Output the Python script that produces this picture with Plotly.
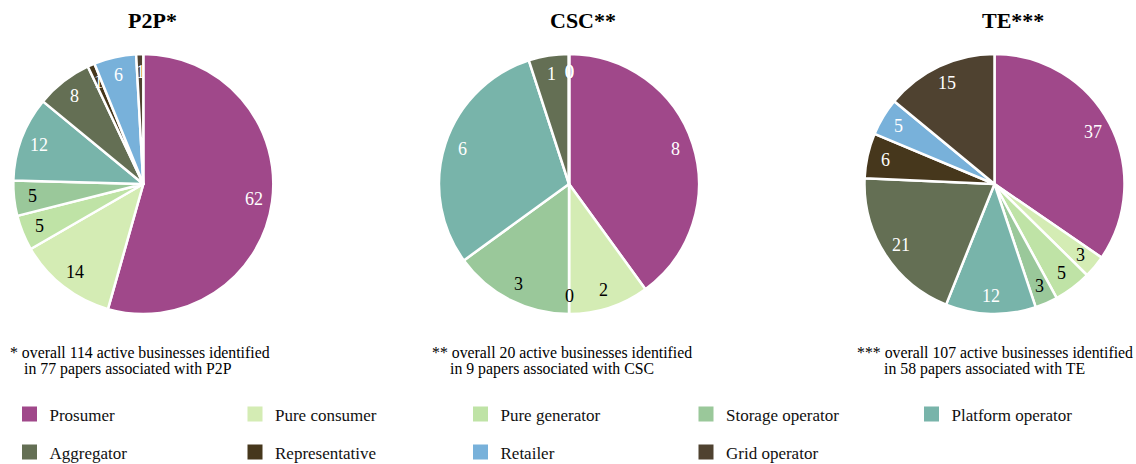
import math
import plotly.graph_objects as go

# ---------------- data ----------------
roles = ["Prosumer", "Pure consumer", "Pure generator", "Storage operator",
         "Platform operator", "Aggregator", "Representative", "Retailer", "Grid operator"]
p2p_values = [62, 14, 5, 5, 12, 8, 1, 6, 1]
csc_values = [8, 2, 0, 3, 6, 1, 0, 0, 0]
te_values = [37, 3, 5, 3, 12, 21, 6, 5, 15]
chart_titles = ["P2P*", "CSC**", "TE***"]
note_line1 = ["* overall 114 active businesses identified",
              "** overall 20 active businesses identified",
              "*** overall 107 active businesses identified"]
note_line2 = ["in 77 papers associated with P2P",
              "in 9 papers associated with CSC",
              "in 58 papers associated with TE"]

# ---------------- style ----------------
colors = ["#A0488A", "#D4ECB4", "#BFE3A6", "#9AC89A", "#78B4AA",
          "#646F54", "#46371C", "#78B1DA", "#4F4230"]
label_colors = ["white", "black", "black", "black", "white",
                "white", "white", "white", "white"]
FONT = "Liberation Serif"
W, H = 1136, 464
R = 130
centers = [(143.3, 184), (569, 184), (994.5, 184)]   # pixels
title_x = [153, 583, 1013]
note_x1 = [8, 430, 855]
note_x2 = [22, 448, 882]
label_r = 0.86


def px(x):
    return x / W


def py(y):
    return 1 - y / H


fig = go.Figure()
annotations = []
all_values = [p2p_values, csc_values, te_values]

for k, vals in enumerate(all_values):
    cx, cy = centers[k]
    fig.add_trace(go.Pie(
        labels=roles, values=vals, sort=False, direction="clockwise", rotation=0,
        marker=dict(colors=colors, line=dict(color="white", width=2.5)),
        textinfo="none", hoverinfo="label+value", showlegend=False,
        domain=dict(x=[px(cx - R), px(cx + R)], y=[py(cy + R), py(cy - R)]),
    ))
    total = sum(vals)
    cum = 0
    for i, v in enumerate(vals):
        theta = (cum + v / 2) / total * 2 * math.pi
        cum += v
        x = cx + label_r * R * math.sin(theta)
        y = cy - label_r * R * math.cos(theta)
        annotations.append(dict(
            x=px(x), y=py(y), xref="paper", yref="paper", text=str(v),
            showarrow=False, xanchor="center", yanchor="middle",
            font=dict(family=FONT, size=18, color=label_colors[i])))
    annotations.append(dict(
        x=px(title_x[k]), y=py(20), xref="paper", yref="paper",
        text="<b>" + chart_titles[k] + "</b>", showarrow=False,
        xanchor="center", yanchor="middle",
        font=dict(family=FONT, size=22, color="black")))
    annotations.append(dict(
        x=px(note_x1[k]), y=py(352), xref="paper", yref="paper",
        text=note_line1[k], showarrow=False, xanchor="left", yanchor="middle",
        font=dict(family=FONT, size=15.8, color="black")))
    annotations.append(dict(
        x=px(note_x2[k]), y=py(369), xref="paper", yref="paper",
        text=note_line2[k], showarrow=False, xanchor="left", yanchor="middle",
        font=dict(family=FONT, size=15.8, color="black")))

# legend entries (two rows)
for i, role in enumerate(roles):
    fig.add_trace(go.Scatter(
        x=[None], y=[None], mode="markers", name=role,
        marker=dict(symbol="square", size=15, color=colors[i]),
        legend="legend" if i < 5 else "legend2", hoverinfo="skip"))

legend_common = dict(orientation="h", xanchor="left", yanchor="top",
                     entrywidth=180.5, entrywidthmode="pixels",
                     font=dict(family=FONT, size=17, color="#111"),
                     bgcolor="rgba(0,0,0,0)", itemclick=False, itemdoubleclick=False)

fig.update_layout(
    width=W, height=H, margin=dict(l=0, r=0, t=0, b=0, autoexpand=False),
    paper_bgcolor="white", plot_bgcolor="white",
    xaxis=dict(visible=False), yaxis=dict(visible=False),
    annotations=annotations,
    legend=dict(x=px(9.5), y=py(414 - 17.5), **legend_common),
    legend2=dict(x=px(9.5), y=py(452 - 17.5), **legend_common),
    font=dict(family=FONT),
)

fig.write_html("out.html", config={"displayModeBar": False},
               post_script="document.body.style.margin='0';document.body.style.overflow='hidden';")
